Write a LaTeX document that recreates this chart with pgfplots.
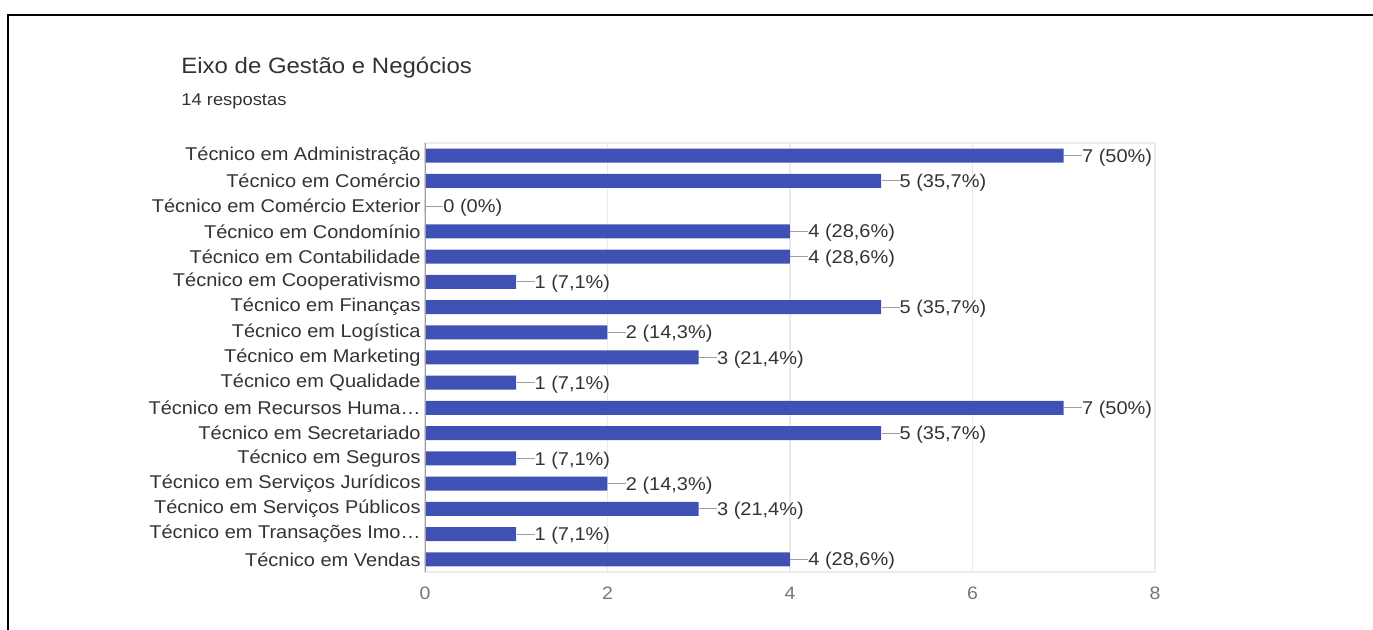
\documentclass[border=0pt]{standalone}
\usepackage{fontspec}
\setmainfont[FakeStretch=1.08]{Liberation Sans}
\usepackage{pgfplots}
\pgfplotsset{compat=1.18}

\definecolor{barblue}{HTML}{3F51B5}
\definecolor{gridgray}{HTML}{EBEBEB}
\definecolor{axisgray}{HTML}{9E9E9E}
\definecolor{linegray}{HTML}{9E9E9E}
\definecolor{titlegray}{HTML}{333333}
\definecolor{labelgray}{HTML}{333333}
\definecolor{tickgray}{HTML}{757575}

\begin{document}
\begin{tikzpicture}[x=1pt,y=1pt]
% page frame (top and left only, as in the screenshot)
\path[use as bounding box] (0,0) rectangle (686.5,315);
\draw[line width=1.2pt] (4,0) -- (4,307.5) -- (686.5,307.5);

\node[anchor=base west, inner sep=0pt, text=titlegray,
      font=\fontsize{11.1}{13}\selectfont] at (90.5,278) {Eixo de Gestão e Negócios};
\node[anchor=base west, inner sep=0pt, text=titlegray,
      font=\fontsize{8.5}{10}\selectfont] at (90.5,262) {14 respostas};

\begin{axis}[
  at={(212.5pt,29pt)}, anchor=south west,
  scale only axis, width=365pt, height=214.5pt,
  xbar, bar width=7pt, bar shift=0pt,
  xmin=0, xmax=8, ymin=-0.5, ymax=16.5, y dir=reverse,
  xtick={0,2,4,6,8},
  ytick={0,...,16},
  yticklabels={
    Técnico em Administração,
    Técnico em Comércio,
    Técnico em Comércio Exterior,
    Técnico em Condomínio,
    Técnico em Contabilidade,
    Técnico em Cooperativismo,
    Técnico em Finanças,
    Técnico em Logística,
    Técnico em Marketing,
    Técnico em Qualidade,
    Técnico em Recursos Huma…,
    Técnico em Secretariado,
    Técnico em Seguros,
    Técnico em Serviços Jurídicos,
    Técnico em Serviços Públicos,
    Técnico em Transações Imo…,
    Técnico em Vendas},
  major tick length=0pt,
  xmajorgrids, grid style={gridgray, line width=0.6pt},
  axis line style={gridgray, line width=0.6pt},
  /pgf/number format/assume math mode=true,
  yticklabel style={font=\fontsize{9.25}{11}\selectfont, text=labelgray, inner xsep=2pt},
  xticklabel style={font=\fontsize{9}{11}\selectfont, text=tickgray,
                    anchor=north, inner sep=0pt, yshift=-7.5pt},
  point meta=explicit symbolic,
  nodes near coords={\textcolor{linegray}{\rule[3.05pt]{9pt}{0.5pt}}\pgfplotspointmeta},
  every node near coord/.style={anchor=base west, inner sep=0pt, yshift=-3.3pt,
                                font=\fontsize{9.25}{11}\selectfont, text=labelgray},
]
\addplot[fill=barblue, draw=none] coordinates {
  (7,0)  [7 (50\%)]
  (5,1)  [5 (35,7\%)]
  (0,2)  [0 (0\%)]
  (4,3)  [4 (28,6\%)]
  (4,4)  [4 (28,6\%)]
  (1,5)  [1 (7,1\%)]
  (5,6)  [5 (35,7\%)]
  (2,7)  [2 (14,3\%)]
  (3,8)  [3 (21,4\%)]
  (1,9)  [1 (7,1\%)]
  (7,10) [7 (50\%)]
  (5,11) [5 (35,7\%)]
  (1,12) [1 (7,1\%)]
  (2,13) [2 (14,3\%)]
  (3,14) [3 (21,4\%)]
  (1,15) [1 (7,1\%)]
  (4,16) [4 (28,6\%)]
};
\draw[axisgray, line width=0.6pt] (axis cs:0,-0.5) -- (axis cs:0,16.5);
\end{axis}
\end{tikzpicture}
\end{document}
